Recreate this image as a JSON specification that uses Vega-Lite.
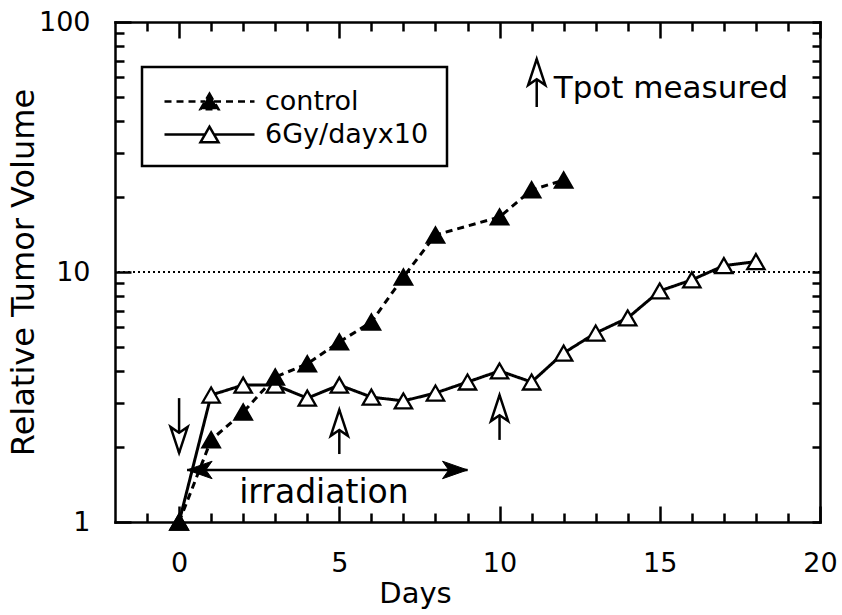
{
  "$schema": "https://vega.github.io/schema/vega-lite/v6.json",
  "width": 705,
  "height": 500,
  "autosize": "none",
  "padding": {"left": 115, "top": 22, "right": 22, "bottom": 93},
  "background": "white",
  "config": {
    "view": {"stroke": null},
    "font": "DejaVu Sans",
    "axis": {
      "grid": false,
      "domainColor": "black",
      "domainWidth": 2.5,
      "domainCap": "square",
      "tickColor": "black",
      "tickWidth": 2.5,
      "labelFont": "DejaVu Sans",
      "labelFontSize": 27,
      "labelColor": "black",
      "labelOverlap": false,
      "labelFlush": false,
      "titleFont": "DejaVu Sans",
      "titleFontWeight": "normal",
      "titleColor": "black"
    }
  },
  "datasets": {
    "tumor": [
      {"day": 0, "volume": 1.0, "group": "6Gy/dayx10"},
      {"day": 1, "volume": 3.22, "group": "6Gy/dayx10"},
      {"day": 2, "volume": 3.53, "group": "6Gy/dayx10"},
      {"day": 3, "volume": 3.53, "group": "6Gy/dayx10"},
      {"day": 4, "volume": 3.13, "group": "6Gy/dayx10"},
      {"day": 5, "volume": 3.53, "group": "6Gy/dayx10"},
      {"day": 6, "volume": 3.16, "group": "6Gy/dayx10"},
      {"day": 7, "volume": 3.05, "group": "6Gy/dayx10"},
      {"day": 8, "volume": 3.28, "group": "6Gy/dayx10"},
      {"day": 9, "volume": 3.63, "group": "6Gy/dayx10"},
      {"day": 10, "volume": 4.02, "group": "6Gy/dayx10"},
      {"day": 11, "volume": 3.63, "group": "6Gy/dayx10"},
      {"day": 12, "volume": 4.74, "group": "6Gy/dayx10"},
      {"day": 13, "volume": 5.7, "group": "6Gy/dayx10"},
      {"day": 14, "volume": 6.55, "group": "6Gy/dayx10"},
      {"day": 15, "volume": 8.4, "group": "6Gy/dayx10"},
      {"day": 16, "volume": 9.3, "group": "6Gy/dayx10"},
      {"day": 17, "volume": 10.6, "group": "6Gy/dayx10"},
      {"day": 18, "volume": 11.0, "group": "6Gy/dayx10"},
      {"day": 0, "volume": 1.0, "group": "control"},
      {"day": 1, "volume": 2.13, "group": "control"},
      {"day": 2, "volume": 2.75, "group": "control"},
      {"day": 3, "volume": 3.8, "group": "control"},
      {"day": 4, "volume": 4.29, "group": "control"},
      {"day": 5, "volume": 5.25, "group": "control"},
      {"day": 6, "volume": 6.31, "group": "control"},
      {"day": 7, "volume": 9.55, "group": "control"},
      {"day": 8, "volume": 14.06, "group": "control"},
      {"day": 10, "volume": 16.6, "group": "control"},
      {"day": 11, "volume": 21.3, "group": "control"},
      {"day": 12, "volume": 23.3, "group": "control"}
    ],
    "markers": [
      {"day": 0, "tail": 3.13, "tip": 1.89, "dir": "down"},
      {"day": 5, "tail": 1.87, "tip": 2.81, "dir": "up"},
      {"day": 10, "tail": 2.13, "tip": 3.22, "dir": "up"},
      {"day": 11.16, "tail": 45.7, "tip": 71.1, "dir": "up"}
    ],
    "irradiation": [
      {"start": 0.25, "end": 9.0, "level": 1.615}
    ],
    "irradiationEnds": [
      {"day": 0.25, "level": 1.615, "dir": "left"},
      {"day": 9.0, "level": 1.615, "dir": "right"}
    ]
  },
  "layer": [
    {
      "data": {"values": [{"level": 10}]},
      "mark": {"type": "rule", "color": "black", "strokeWidth": 2, "strokeDash": [2, 3]},
      "encoding": {
        "y": {"field": "level", "type": "quantitative", "axis": null}
      }
    },
    {
      "data": {"name": "tumor"},
      "mark": {"type": "line", "color": "black", "strokeWidth": 3},
      "encoding": {
        "x": {
          "field": "day", "type": "quantitative",
          "scale": {"domain": [-2, 20], "nice": false, "zero": false},
          "axis": {
            "orient": "bottom",
            "values": [-1, 0, 1, 2, 3, 4, 5, 6, 7, 8, 9, 10, 11, 12, 13, 14, 15, 16, 17, 18, 19, 20],
            "format": "d",
            "tickSize": {"condition": {"test": "datum.value % 5 === 0", "value": -16}, "value": -9},
            "labelExpr": "datum.value % 5 === 0 ? datum.label : ''",
            "labelPadding": 44,
            "title": "Days",
            "titleFontSize": 29,
            "titleX": 300,
            "titleY": 80,
            "titleBaseline": "alphabetic",
            "titleAlign": "center"
          }
        },
        "y": {
          "field": "volume", "type": "quantitative",
          "scale": {"type": "log", "domain": [1, 100], "nice": false},
          "axis": {
            "orient": "left",
            "values": [1, 2, 3, 4, 5, 6, 7, 8, 9, 10, 20, 30, 40, 50, 60, 70, 80, 90, 100],
            "format": "d",
            "tickSize": {"condition": {"test": "datum.value == 1 || datum.value == 10 || datum.value == 100", "value": -16}, "value": -9},
            "labelExpr": "(datum.value == 1 || datum.value == 10 || datum.value == 100) ? datum.label : ''",
            "labelPadding": 41,
            "title": "Relative Tumor Volume",
            "titleFontSize": 32,
            "titleAngle": 270,
            "titleX": -82,
            "titleY": 250,
            "titleBaseline": "alphabetic",
            "titleAlign": "center"
          }
        },
        "strokeDash": {
          "field": "group", "type": "nominal",
          "scale": {"domain": ["control", "6Gy/dayx10"], "range": [[7, 5], [1, 0]]},
          "legend": {
            "orient": "none",
            "legendX": 27,
            "legendY": 45,
            "title": null,
            "padding": 18,
            "strokeColor": "black",
            "fillColor": "white",
            "symbolType": "M-3,0H-0.3M0.3,0H3M0,-0.52L0.6,0.52L-0.6,0.52Z",
            "symbolSize": 900,
            "symbolStrokeWidth": 2.5,
            "symbolStrokeColor": "black",
            "symbolOffset": 33,
            "labelOffset": 39,
            "rowPadding": 3,
            "labelFont": "DejaVu Sans",
            "labelFontSize": 27,
            "labelColor": "black",
            "labelLimit": 400,
            "encode": {
              "legend": {"update": {"strokeWidth": {"value": 2.5}}},
              "symbols": {"update": {
                "fill": {"signal": "datum.value === 'control' ? 'black' : 'white'"},
                "stroke": {"value": "black"},
                "strokeWidth": {"value": 2.5},
                "opacity": {"value": 1}
              }}
            }
          }
        }
      }
    },
    {
      "data": {"name": "tumor"},
      "mark": {"type": "point", "shape": "triangle-up", "size": 300, "filled": true, "stroke": "black", "strokeWidth": 2.3, "opacity": 1},
      "encoding": {
        "x": {
          "field": "day", "type": "quantitative",
          "axis": {
            "orient": "top",
            "values": [-1, 0, 1, 2, 3, 4, 5, 6, 7, 8, 9, 10, 11, 12, 13, 14, 15, 16, 17, 18, 19, 20],
            "tickSize": {"condition": {"test": "datum.value % 5 === 0", "value": -16}, "value": -9},
            "labels": false,
            "title": null
          }
        },
        "y": {
          "field": "volume", "type": "quantitative",
          "axis": {
            "orient": "right",
            "values": [1, 2, 3, 4, 5, 6, 7, 8, 9, 10, 20, 30, 40, 50, 60, 70, 80, 90, 100],
            "tickSize": -8,
            "labels": false,
            "title": null
          }
        },
        "fill": {
          "field": "group", "type": "nominal",
          "scale": {"domain": ["control", "6Gy/dayx10"], "range": ["black", "white"]},
          "legend": null
        }
      }
    },
    {
      "data": {"name": "markers"},
      "mark": {"type": "rule", "color": "black", "strokeWidth": 2.5},
      "encoding": {
        "x": {"field": "day", "type": "quantitative", "axis": null},
        "y": {"field": "tail", "type": "quantitative", "axis": null},
        "y2": {"field": "tip"}
      }
    },
    {
      "data": {"name": "irradiation"},
      "mark": {"type": "rule", "color": "black", "strokeWidth": 2.5},
      "encoding": {
        "x": {"field": "start", "type": "quantitative", "axis": null},
        "x2": {"field": "end"},
        "y": {"field": "level", "type": "quantitative", "axis": null}
      }
    },
    {
      "data": {"name": "markers"},
      "mark": {"type": "point", "size": 676, "filled": true, "fill": "white", "stroke": "black", "strokeWidth": 2.5, "opacity": 1},
      "encoding": {
        "x": {"field": "day", "type": "quantitative", "axis": null},
        "y": {"field": "tip", "type": "quantitative", "axis": null},
        "shape": {
          "field": "dir", "type": "nominal", "legend": null,
          "scale": {
            "domain": ["up", "down", "left", "right"],
            "range": ["M0,0L0.66,2L0,1.55L-0.66,2Z", "M0,0L0.66,-2L0,-1.55L-0.66,-2Z", "M0,0L2,-0.7L1.5,0L2,0.7Z", "M0,0L-2,-0.7L-1.5,0L-2,0.7Z"]
          }
        }
      }
    },
    {
      "data": {"name": "irradiationEnds"},
      "mark": {"type": "point", "size": 625, "filled": true, "fill": "black", "stroke": "black", "strokeWidth": 1, "opacity": 1},
      "encoding": {
        "x": {"field": "day", "type": "quantitative", "axis": null},
        "y": {"field": "level", "type": "quantitative", "axis": null},
        "shape": {"field": "dir", "type": "nominal", "legend": null}
      }
    },
    {
      "data": {"values": [{"day": 4.52, "level": 1.191, "label": "irradiation"}]},
      "mark": {"type": "text", "font": "DejaVu Sans", "fontSize": 33, "align": "center", "baseline": "alphabetic", "color": "black"},
      "encoding": {
        "x": {"field": "day", "type": "quantitative", "axis": null},
        "y": {"field": "level", "type": "quantitative", "axis": null},
        "text": {"field": "label"}
      }
    },
    {
      "data": {"values": [{"day": 11.69, "level": 49.7, "label": "Tpot measured"}]},
      "mark": {"type": "text", "font": "DejaVu Sans", "fontSize": 31, "align": "left", "baseline": "alphabetic", "color": "black"},
      "encoding": {
        "x": {"field": "day", "type": "quantitative", "axis": null},
        "y": {"field": "level", "type": "quantitative", "axis": null},
        "text": {"field": "label"}
      }
    }
  ],
  "resolve": {"axis": {"x": "independent", "y": "independent"}}
}
